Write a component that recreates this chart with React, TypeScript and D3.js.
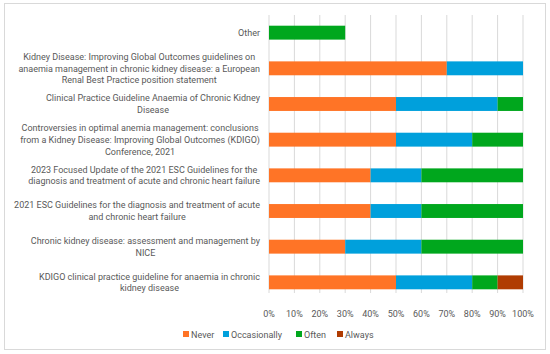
import React, { useEffect, useRef } from "react";
import * as d3 from "d3";

const categories: string[][] = [
  ["Other"],
  ["Kidney Disease: Improving Global Outcomes guidelines on", "anaemia management in chronic kidney disease: a European", "Renal Best Practice position statement"],
  ["Clinical Practice Guideline Anaemia of Chronic Kidney", "Disease"],
  ["Controversies in optimal anemia management: conclusions", "from a Kidney Disease: Improving Global Outcomes (KDIGO)", "Conference, 2021"],
  ["2023 Focused Update of the 2021 ESC Guidelines for the", "diagnosis and treatment of acute and chronic heart failure"],
  ["2021 ESC Guidelines for the diagnosis and treatment of acute", "and chronic heart failure"],
  ["Chronic kidney disease: assessment and management by", "NICE"],
  ["KDIGO clinical practice guideline for anaemia in chronic", "kidney disease"],
];
const seriesNames = ["Never", "Occasionally", "Often", "Always"];
const never = [0, 70, 50, 50, 40, 40, 30, 50];
const occasionally = [0, 30, 40, 30, 20, 20, 30, 30];
const often = [30, 0, 10, 20, 40, 40, 40, 10];
const always = [0, 0, 0, 0, 0, 0, 0, 10];
const colors = ["#FF7426", "#00A0DC", "#00A71D", "#B03C02"];
const ticks = [0, 10, 20, 30, 40, 50, 60, 70, 80, 90, 100];

export default function App() {
  const ref = useRef<SVGSVGElement>(null);
  useEffect(() => {
    const svg = d3.select(ref.current);
    svg.selectAll("*").remove();
    svg.append("rect").attr("x", 4.5).attr("y", 3.5).attr("width", 541).attr("height", 346)
      .attr("fill", "#fff").attr("stroke", "#d9d9d9");
    const x = d3.scaleLinear().domain([0, 100]).range([269, 523]);
    const idx = categories.map((_, i) => i);
    const y = d3.scaleBand<number>().domain(idx).range([15, 300]).paddingInner(0.61).paddingOuter(0.3);
    const font = "Roboto, 'Liberation Sans', sans-serif";
    const fs = 9;
    const g = svg.append("g");
    g.selectAll("line.grid").data(ticks).join("line")
      .attr("x1", d => x(d)).attr("x2", d => x(d)).attr("y1", 15).attr("y2", 293)
      .attr("stroke", "#d9d9d9").attr("stroke-width", 1);
    const values = [never, occasionally, often, always];
    const rows = idx.map(i => {
      const o: any = { i };
      seriesNames.forEach((s, k) => (o[s] = values[k][i]));
      return o;
    });
    const stacked = d3.stack<any>().keys(seriesNames)(rows);
    stacked.forEach((layer, k) => {
      g.selectAll(null).data(layer).join("rect")
        .attr("x", d => x(d[0])).attr("width", d => x(d[1]) - x(d[0]))
        .attr("y", (d: any) => y(d.data.i)!).attr("height", y.bandwidth())
        .attr("fill", colors[k]);
    });
    g.selectAll("text.tick").data(ticks).join("text")
      .attr("x", d => x(d)).attr("y", 317).attr("text-anchor", "middle")
      .attr("font-family", font).attr("font-size", fs).attr("fill", "#595959")
      .text(d => d + "%");
    const lh = 11.7;
    categories.forEach((lines, i) => {
      const cy = y(i)! + y.bandwidth() / 2;
      const tg = g.append("g");
      const texts = lines.map((l, j) => tg.append("text")
        .attr("y", cy + (j - (lines.length - 1) / 2) * lh + 3.2)
        .attr("font-family", font).attr("font-size", fs).attr("fill", "#595959")
        .attr("text-anchor", "middle").text(l));
      const widths = texts.map(t => (t.node() as SVGTextElement).getComputedTextLength());
      const mw = Math.max(...widths);
      const cx = 260 - mw / 2;
      texts.forEach(t => t.attr("x", cx));
    });
    const legX = [183, 223, 296, 337];
    seriesNames.forEach((s, k) => {
      g.append("rect").attr("x", legX[k]).attr("y", 331).attr("width", 6).attr("height", 6).attr("fill", colors[k]);
      g.append("text").attr("x", legX[k] + 8).attr("y", 337.5).attr("font-family", font)
        .attr("font-size", fs).attr("fill", "#595959").text(s);
    });
  }, []);
  return <svg ref={ref} width={550} height={354} style={{ position: "absolute", left: 0, top: 0 }} />;
}
